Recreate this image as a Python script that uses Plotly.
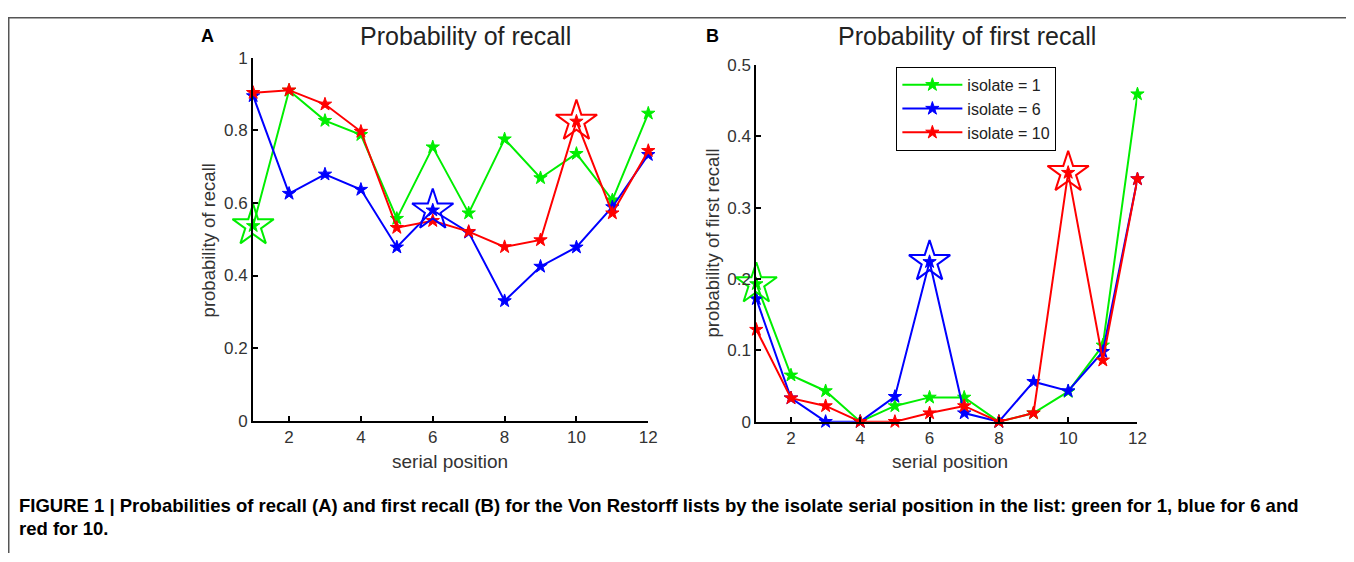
import plotly.graph_objects as go

W, H = 1354, 555
# observed page placement: screen = scale * (offset + layout px)
SX, SY = 0.993, 0.969
OX, OY = 8.0, 16.5

positions = list(range(1, 13))

# Panel A: probability of recall
recall_iso1 = [0.537, 0.910, 0.827, 0.788, 0.557, 0.754, 0.572, 0.776, 0.669, 0.736, 0.608, 0.847]
recall_iso6 = [0.895, 0.626, 0.679, 0.637, 0.478, 0.580, 0.519, 0.330, 0.425, 0.478, 0.589, 0.733]
recall_iso10 = [0.904, 0.911, 0.872, 0.797, 0.532, 0.551, 0.521, 0.479, 0.498, 0.825, 0.572, 0.744]

# Panel B: probability of first recall
first_iso1 = [0.193, 0.065, 0.043, 0.0, 0.022, 0.034, 0.034, 0.0, 0.012, 0.042, 0.107, 0.459]
first_iso6 = [0.172, 0.033, 0.0, 0.0, 0.035, 0.224, 0.012, 0.0, 0.056, 0.043, 0.098, 0.340]
first_iso10 = [0.129, 0.033, 0.022, 0.0, 0.0, 0.012, 0.022, 0.0, 0.012, 0.349, 0.086, 0.340]

isolates = [1, 6, 10]
series_names = ["isolate = 1", "isolate = 6", "isolate = 10"]
colors = ["#00ee00", "#0000ff", "#ff0000"]

FONT = "Arial, Liberation Sans, sans-serif"

def px_x(p):
    return (p / SX - OX) / W

def px_y(p):
    return 1 - (p / SY - OY) / H

fig = go.Figure()

panels = [
    ("x", "y", [recall_iso1, recall_iso6, recall_iso10], True),
    ("x2", "y2", [first_iso1, first_iso6, first_iso10], False),
]

for xa, ya, data, first in panels:
    for name, col, vals, iso in zip(series_names, colors, data, isolates):
        fig.add_trace(go.Scatter(
            x=positions, y=vals, xaxis=xa, yaxis=ya, name=name,
            mode="lines+markers",
            line=dict(color=col, width=2),
            marker=dict(symbol="star", size=10, color=col, line=dict(color=col, width=1)),
            showlegend=not first, cliponaxis=False,
        ))
    for name, col, vals, iso in zip(series_names, colors, data, isolates):
        fig.add_trace(go.Scatter(
            x=[positions[iso - 1]], y=[vals[iso - 1]], xaxis=xa, yaxis=ya,
            mode="markers",
            marker=dict(symbol="star-open", size=31, color=col, line=dict(color=col, width=2)),
            showlegend=False, cliponaxis=False, hoverinfo="skip",
        ))

axis_common = dict(
    showline=True, linecolor="black", linewidth=2, mirror=False,
    ticks="inside", ticklen=5, tickwidth=2, tickcolor="black",
    showgrid=False, zeroline=False,
    tickfont=dict(family=FONT, size=17, color="#333333"),
)

fig.update_layout(
    width=W, height=H,
    margin=dict(l=0, r=0, t=0, b=0),
    paper_bgcolor="white", plot_bgcolor="white",
    font=dict(family=FONT),
    xaxis=dict(domain=[px_x(253), px_x(648)], range=[1, 12],
               tickvals=[2, 4, 6, 8, 10, 12], anchor="y", **axis_common),
    yaxis=dict(domain=[px_y(421), px_y(57)], range=[0, 1],
               tickvals=[0, 0.2, 0.4, 0.6, 0.8, 1],
               ticktext=["0", "0.2", "0.4", "0.6", "0.8", "1"], anchor="x", **axis_common),
    xaxis2=dict(domain=[px_x(756), px_x(1137)], range=[1, 12],
                tickvals=[2, 4, 6, 8, 10, 12], anchor="y2", **axis_common),
    yaxis2=dict(domain=[px_y(422), px_y(64)], range=[0, 0.5],
                tickvals=[0, 0.1, 0.2, 0.3, 0.4, 0.5],
                ticktext=["0", "0.1", "0.2", "0.3", "0.4", "0.5"], anchor="x2", **axis_common),
    legend=dict(
        x=px_x(896), y=px_y(66), xanchor="left", yanchor="top",
        bgcolor="white", bordercolor="black", borderwidth=1,
        font=dict(family=FONT, size=16, color="#222222"),
        tracegroupgap=0, itemwidth=60,
    ),
    showlegend=True,
)

annotations = [
    dict(text="<b>A</b>", x=px_x(207), y=px_y(35), font=dict(size=18, color="black")),
    dict(text="Probability of recall", x=px_x(465), y=px_y(35), font=dict(size=25, color="#222222")),
    dict(text="<b>B</b>", x=px_x(712), y=px_y(35), font=dict(size=18, color="black")),
    dict(text="Probability of first recall", x=px_x(967), y=px_y(35), font=dict(size=25, color="#222222")),
    dict(text="probability of recall", x=px_x(208), y=px_y(240), textangle=-90,
         font=dict(size=18.5, color="#333333")),
    dict(text="serial position", x=px_x(450), y=px_y(462), font=dict(size=19, color="#333333")),
    dict(text="probability of first recall", x=px_x(712), y=px_y(243), textangle=-90,
         font=dict(size=18.5, color="#333333")),
    dict(text="serial position", x=px_x(950), y=px_y(462), font=dict(size=19, color="#333333")),
    dict(text="<b>FIGURE 1 | Probabilities of recall (A) and first recall (B) for the Von Restorff lists by the isolate serial position in the list: green for 1, blue for 6 and</b>",
         x=px_x(17), y=px_y(506), xanchor="left", font=dict(size=18.5, color="black")),
    dict(text="<b>red for 10.</b>",
         x=px_x(17), y=px_y(529), xanchor="left", font=dict(size=18.5, color="black")),
]
for a in annotations:
    a.setdefault("xanchor", "center")
    a.update(xref="paper", yref="paper", yanchor="middle", showarrow=False)
    a["font"]["family"] = FONT
fig.update_layout(annotations=annotations)

fig.update_layout(shapes=[
    dict(type="line", xref="paper", yref="paper", x0=0, x1=1, y0=1 - 0.75 / H, y1=1 - 0.75 / H,
         line=dict(color="#555555", width=1.5)),
    dict(type="line", xref="paper", yref="paper", x0=0.75 / W, x1=0.75 / W, y0=1, y1=0,
         line=dict(color="#555555", width=1.5)),
])

fig.write_html("out.html")
